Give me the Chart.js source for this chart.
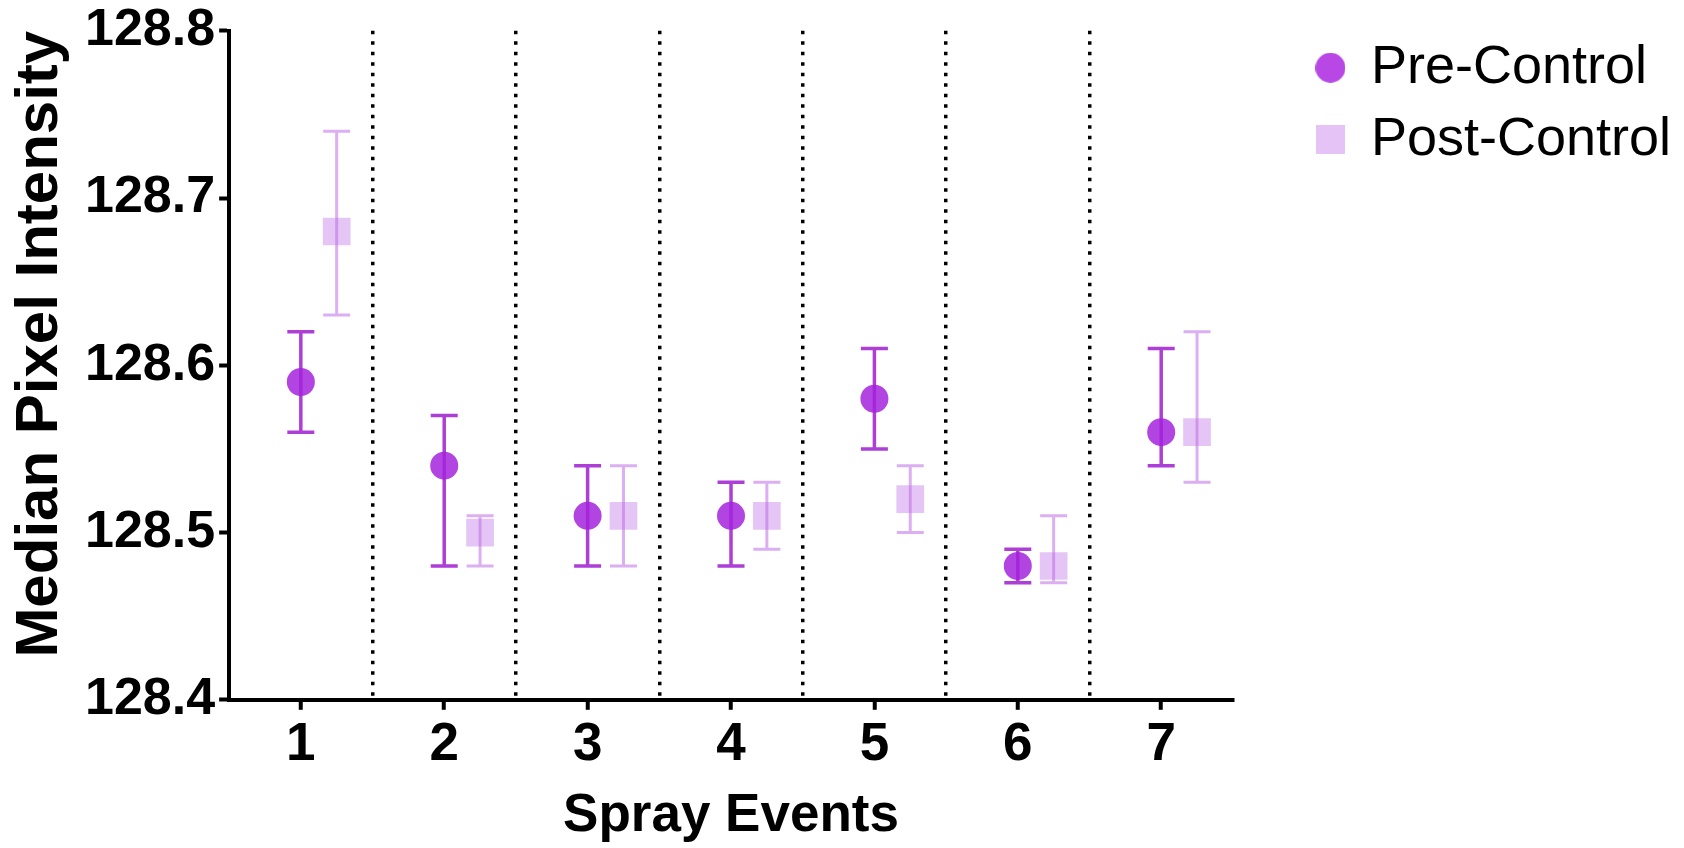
<!DOCTYPE html>
<html>
<head>
<meta charset="utf-8">
<script src="https://cdn.jsdelivr.net/npm/chart.js@4.4.0/dist/chart.umd.min.js"></script>
<style>
  html, body { margin: 0; padding: 0; background: #fff; }
  #wrap { width: 1684px; height: 848px; }
</style>
</head>
<body>
<div id="wrap"><canvas id="chart"></canvas></div>
<script>
// spray events and median pixel intensity (mean with low/high error ends)
const events = [1, 2, 3, 4, 5, 6, 7];
const preMean  = [128.59, 128.54, 128.51, 128.51, 128.58, 128.48, 128.56];
const preLow   = [128.56, 128.48, 128.48, 128.48, 128.55, 128.47, 128.54];
const preHigh  = [128.62, 128.57, 128.54, 128.53, 128.61, 128.49, 128.61];
const postMean = [128.68, 128.50, 128.51, 128.51, 128.52, 128.48, 128.56];
const postLow  = [128.63, 128.48, 128.48, 128.49, 128.50, 128.47, 128.53];
const postHigh = [128.74, 128.51, 128.54, 128.53, 128.54, 128.51, 128.62];
const yTicks = [128.4, 128.5, 128.6, 128.7, 128.8];

const POST_SHIFT = 0.25;   // post-control points sit a bit right of the event tick
const CAP_HALF = 13.5;

const PRE_FILL = 'rgba(165, 35, 220, 0.85)';
const PRE_BAR = '#ad3fd6';
const POST_FILL = 'rgba(190, 110, 230, 0.4)';
const POST_BAR = 'rgba(190, 110, 230, 0.55)';

Chart.defaults.font.family = '"Liberation Sans", Arial, Helvetica, sans-serif';
Chart.defaults.color = '#000';

function legendMarker(shape, color, size) {
    const c = document.createElement('canvas');
    c.width = size;
    c.height = size;
    const g = c.getContext('2d');
    g.fillStyle = color;
    if (shape == 'circle') {
        g.beginPath();
        g.arc(size / 2, size / 2, size / 2, 0, Math.PI * 2);
        g.fill();
    } else {
        g.fillRect(0, 0, size, size);
    }
    return c;
}
const legendMarkers = [legendMarker('circle', '#b847e6', 30), legendMarker('rect', '#e6c3f6', 29)];

// vertical error bars with caps, drawn under the points
const errorBars = {
    id: 'errorBars',
    beforeDatasetsDraw(chart) {
        const ctx = chart.ctx;
        const x = chart.scales.x;
        const y = chart.scales.y;
        chart.data.datasets.forEach((ds, i) => {
            if (!chart.isDatasetVisible(i)) return;
            ctx.save();
            ctx.strokeStyle = ds.barColor;
            ctx.lineWidth = ds.barWidth;
            ctx.beginPath();
            ds.data.forEach((pt, j) => {
                const px = x.getPixelForValue(pt.x);
                const top = y.getPixelForValue(ds.high[j]);
                const bot = y.getPixelForValue(ds.low[j]);
                ctx.moveTo(px, top);
                ctx.lineTo(px, bot);
                ctx.moveTo(px - CAP_HALF, top);
                ctx.lineTo(px + CAP_HALF, top);
                ctx.moveTo(px - CAP_HALF, bot);
                ctx.lineTo(px + CAP_HALF, bot);
            });
            ctx.stroke();
            ctx.restore();
        });
    }
};

function isSeparator(v) {
    return v % 1 === 0.5 && v > events[0] && v < events[events.length - 1];
}

new Chart(document.getElementById('chart'), {
    type: 'scatter',
    data: {
        datasets: [
            {
                label: 'Pre-Control',
                data: events.map((e, i) => ({x: e, y: preMean[i]})),
                low: preLow,
                high: preHigh,
                yAxisID: 'y',
                pointStyle: 'circle',
                pointRadius: 14,
                pointHoverRadius: 14,
                backgroundColor: PRE_FILL,
                borderWidth: 0,
                barColor: PRE_BAR,
                barWidth: 3.5
            },
            {
                label: 'Post-Control',
                data: events.map((e, i) => ({x: e + POST_SHIFT, y: postMean[i]})),
                low: postLow,
                high: postHigh,
                yAxisID: 'y',
                pointStyle: 'rect',
                pointRadius: 19.6,
                pointHoverRadius: 19.6,
                backgroundColor: POST_FILL,
                borderWidth: 0,
                barColor: POST_BAR,
                barWidth: 3
            }
        ]
    },
    options: {
        responsive: true,
        maintainAspectRatio: false,
        animation: false,
        layout: {padding: {left: 4, right: 3, top: 0, bottom: 0}},
        plugins: {
            tooltip: {enabled: false},
            legend: {
                position: 'right',
                align: 'start',
                maxWidth: 450,
                title: {display: true, text: '', font: {size: 19}, padding: 0},
                labels: {
                    usePointStyle: true,
                    boxWidth: 27,
                    boxHeight: 27,
                    padding: 18,
                    font: {size: 54},
                    generateLabels(chart) {
                        const items = Chart.defaults.plugins.legend.labels.generateLabels(chart);
                        items.forEach((it, i) => { it.pointStyle = legendMarkers[i]; });
                        return items;
                    }
                }
            }
        },
        scales: {
            x: {
                type: 'linear',
                min: 0.5,
                max: 7.5,
                afterBuildTicks(scale) {
                    const t = [];
                    events.forEach(e => { t.push({value: e - 0.5}); t.push({value: e}); });
                    t.push({value: events[events.length - 1] + 0.5});
                    scale.ticks = t;
                },
                ticks: {
                    autoSkip: false,
                    maxRotation: 0,
                    padding: 4,
                    font: {size: 53, weight: 'bold'},
                    callback: v => Number.isInteger(v) ? String(v) : ''
                },
                grid: {
                    lineWidth: 3.5,
                    color: c => (c.tick && isSeparator(c.tick.value)) ? '#000' : 'rgba(0,0,0,0)',
                    tickLength: 10,
                    tickWidth: 4,
                    tickColor: c => (c.tick && Number.isInteger(c.tick.value)) ? '#000' : 'rgba(0,0,0,0)'
                },
                border: {color: '#000', width: 4, dash: [3.5, 7]},
                title: {
                    display: true,
                    text: 'Spray Events',
                    font: {size: 53, weight: 'bold'},
                    padding: {top: 3, bottom: 0}
                }
            },
            y: {
                type: 'linear',
                position: 'left',
                min: 128.4,
                max: 128.8,
                afterBuildTicks(scale) {
                    scale.ticks = yTicks.map(v => ({value: v}));
                },
                ticks: {
                    padding: 4,
                    font: {size: 52, weight: 'bold', lineHeight: 1.03},
                    callback: v => v.toFixed(1)
                },
                grid: {
                    drawOnChartArea: false,
                    tickLength: 10,
                    tickWidth: 4,
                    tickColor: '#000'
                },
                border: {color: '#000', width: 4},
                title: {
                    display: true,
                    text: 'Median Pixel Intensity',
                    align: 'end',
                    font: {size: 60, weight: 'bold'},
                    padding: {top: 0, bottom: 5}
                }
            },
            // empty spacer between the plot and the legend
            gap: {
                type: 'linear',
                position: 'right',
                display: true,
                ticks: {display: false},
                grid: {display: false, drawTicks: false},
                border: {display: false},
                afterFit(scale) { scale.width = 66; }
            }
        }
    },
    plugins: [errorBars]
});
</script>
</body>
</html>
